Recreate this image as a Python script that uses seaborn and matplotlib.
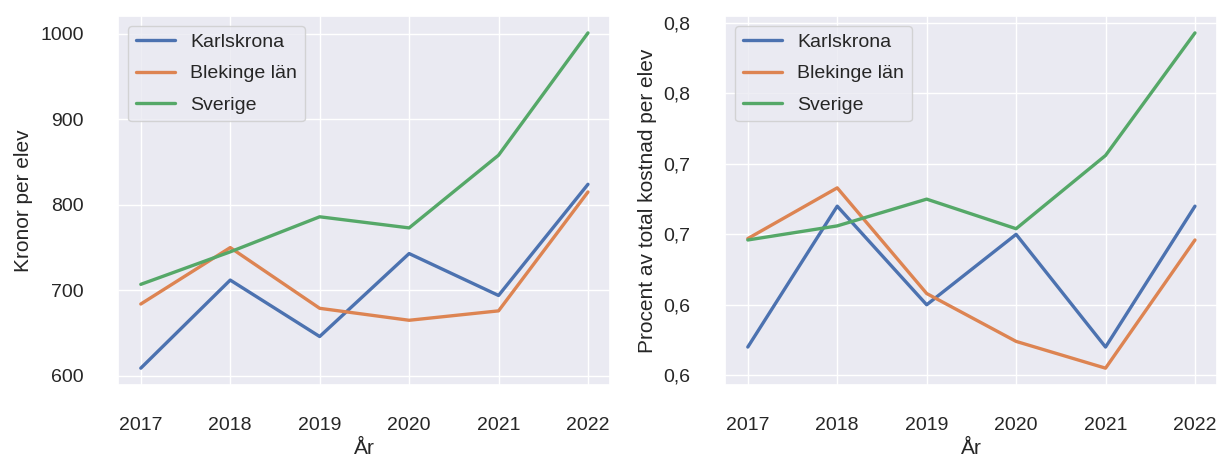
import pandas as pd
import matplotlib
matplotlib.use("Agg")
import matplotlib.pyplot as plt
import matplotlib.ticker as mticker
import seaborn as sns

years = [2017, 2018, 2019, 2020, 2021, 2022]
series_names = ["Karlskrona", "Blekinge län", "Sverige"]

# kronor per elev
kronor_karlskrona = [609, 712, 646, 743, 694, 824]
kronor_blekinge = [684, 750, 679, 665, 676, 815]
kronor_sverige = [707, 745, 786, 773, 858, 1001]

# procent av total kostnad per elev
procent_karlskrona = [0.570, 0.670, 0.600, 0.650, 0.570, 0.670]
procent_blekinge = [0.647, 0.683, 0.608, 0.574, 0.555, 0.646]
procent_sverige = [0.646, 0.656, 0.675, 0.654, 0.706, 0.793]

procent_ticks = [0.55, 0.60, 0.65, 0.70, 0.75, 0.80]


def long_frame(a, b, c, col):
    rows = []
    for name, vals in zip(series_names, [a, b, c]):
        for yr, v in zip(years, vals):
            rows.append({"År": yr, "Område": name, col: v})
    return pd.DataFrame(rows)


sns.set_theme(style="darkgrid")
plt.rcParams["font.family"] = ["Liberation Sans", "DejaVu Sans"]

df_kr = long_frame(kronor_karlskrona, kronor_blekinge, kronor_sverige, "Kronor per elev")
df_pr = long_frame(procent_karlskrona, procent_blekinge, procent_sverige,
                   "Procent av total kostnad per elev")

fig, axes = plt.subplots(1, 2, figsize=(12.21, 4.61), dpi=100)

sns.lineplot(data=df_kr, x="År", y="Kronor per elev", hue="Område",
             ax=axes[0], linewidth=2.4)
sns.lineplot(data=df_pr, x="År", y="Procent av total kostnad per elev",
             hue="Område", ax=axes[1], linewidth=2.4)

for ax in axes:
    ax.set_xticks(years)
    ax.tick_params(axis="x", labelsize=14, pad=17)
    ax.tick_params(axis="y", labelsize=14, pad=19)
    ax.set_xlabel("År", fontsize=15, labelpad=4)
    ax.set_ylabel(ax.get_ylabel(), fontsize=15, labelpad=5)
    ax.legend(loc="upper left", fontsize=14, title=None, labelspacing=0.7)

axes[0].set_yticks([600, 700, 800, 900, 1000])
axes[1].set_yticks(procent_ticks)
axes[1].yaxis.set_major_formatter(
    mticker.FuncFormatter(lambda v, p: f"{v:.1f}".replace(".", ",")))

plt.subplots_adjust(left=0.097, right=0.997, top=0.965, bottom=0.165, wspace=0.234)
plt.savefig("out.png", dpi=100)
plt.close()
